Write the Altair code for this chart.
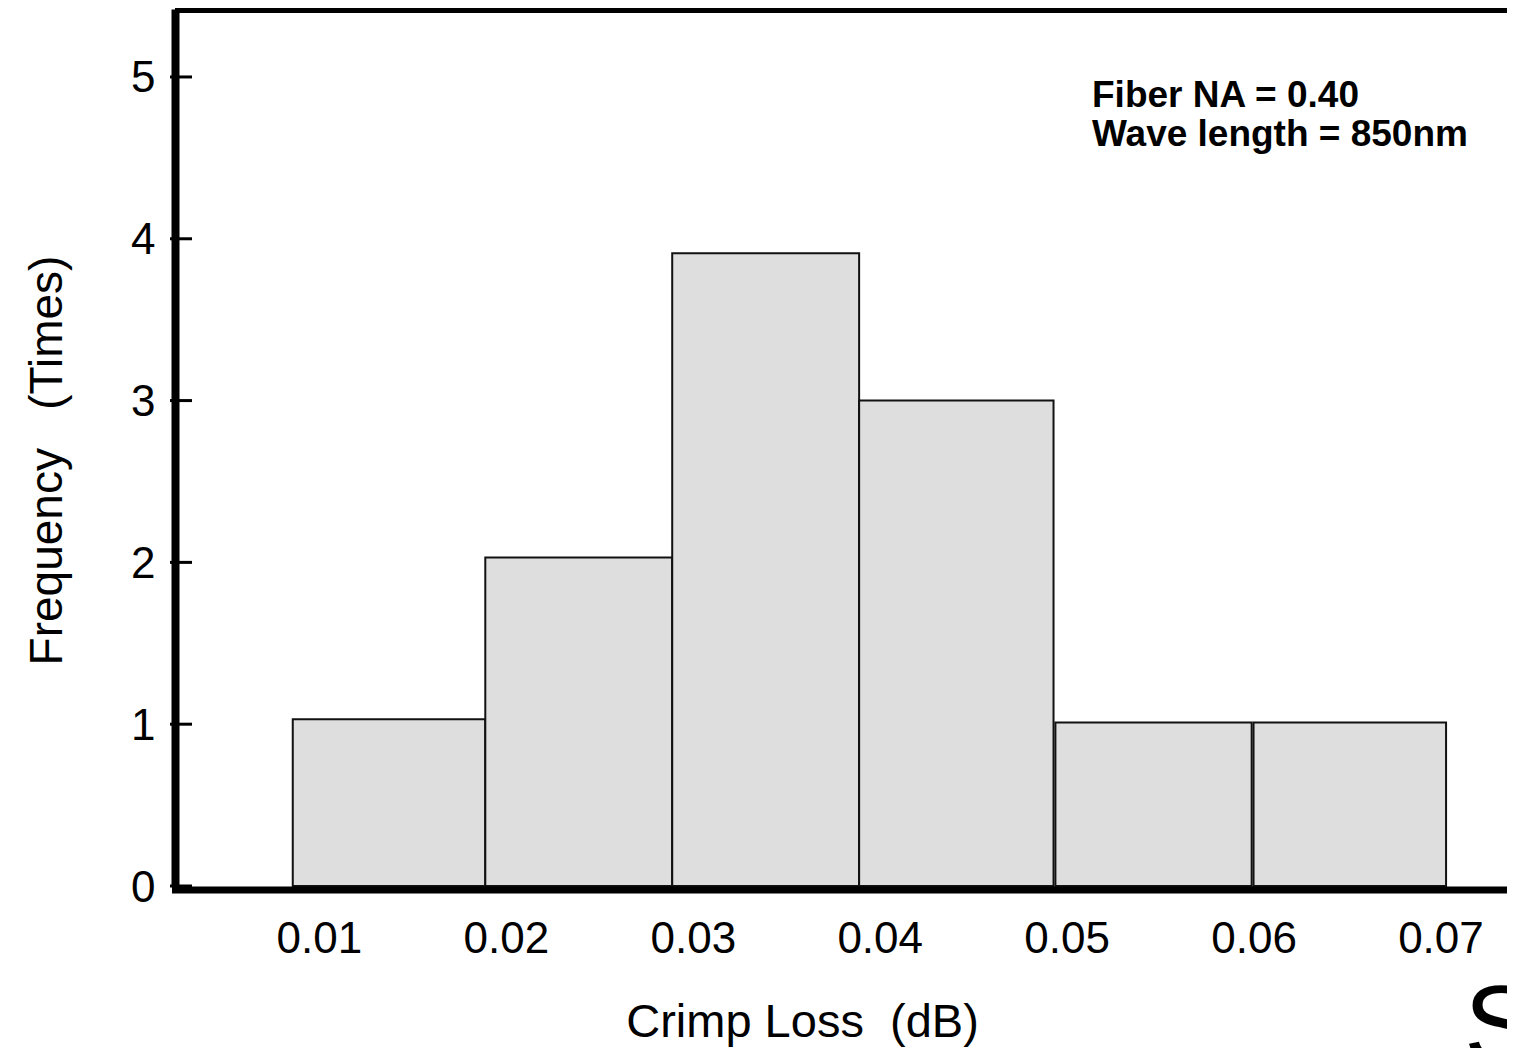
import altair as alt
import pandas as pd

# ---- data ----
bin_start = [0.0086, 0.0189, 0.0289, 0.0389, 0.0494, 0.0600]
bin_end = [0.0189, 0.0289, 0.0389, 0.0493, 0.0599, 0.0703]
frequency = [1.03, 2.03, 3.91, 3.0, 1.01, 1.01]
x_ticks = [0.01, 0.02, 0.03, 0.04, 0.05, 0.06, 0.07]
y_ticks = [0, 1, 2, 3, 4, 5]
note_lines = ["Fiber NA = 0.40", "Wave length = 850nm"]
NB = "\u00a0"
x_title = "Crimp Loss" + NB + NB + "(dB)"
y_title = "Frequency" + NB + NB + NB + "(Times)"

bars_df = pd.DataFrame({"start": bin_start, "end": bin_end, "freq": frequency})
ticks_df = pd.DataFrame({"freq": y_ticks})
one_df = pd.DataFrame({"a": [0]})

FONT = "Liberation Sans"
W, H = 1332, 877

xscale = alt.Scale(domain=[0.0023, 0.07356], nice=False, zero=False)
yscale = alt.Scale(domain=[0, 5.42], nice=False)

x_axis = alt.Axis(
    values=x_ticks, format=".2f", title=x_title,
    titleFont=FONT, titleFontSize=47, titleFontWeight="normal", titleColor="black",
    titleX=627, titleY=147, titleBaseline="alphabetic", titleAlign="center", titleAnchor="start",
    labelFont=FONT, labelFontSize=44, labelColor="black", labelPadding=28, labelFlush=False,
    ticks=False, tickSize=0, domainWidth=7, domainColor="black", domainCap="square",
    offset=3.5, grid=False, zindex=1,
)
y_axis = alt.Axis(
    values=y_ticks, title=y_title,
    titleFont=FONT, titleFontSize=46, titleFontWeight="normal", titleColor="black",
    titleX=-128, titleY=451, titleAngle=270, titleBaseline="middle", titleAlign="center",
    labelFont=FONT, labelFontSize=44, labelColor="black", labelPadding=20, labelFlush=False,
    labelOffset=2,
    ticks=False, tickSize=0, domainWidth=8, domainColor="black",
    grid=False, zindex=1,
)

bars = alt.Chart(bars_df).mark_rect(
    fill="#dedede", stroke="#111111", strokeWidth=2
).encode(
    x=alt.X("start:Q", scale=xscale, axis=x_axis),
    x2="end:Q",
    y=alt.Y("freq:Q", scale=yscale, axis=y_axis),
    y2=alt.datum(0),
)

ticks = alt.Chart(ticks_df).mark_rule(color="black", strokeWidth=3).encode(
    y=alt.Y("freq:Q", scale=yscale, axis=y_axis),
    x=alt.value(-5),
    x2=alt.value(17),
)

top_rule = alt.Chart(one_df).mark_rule(color="black", strokeWidth=8).encode(
    x=alt.value(0), x2=alt.value(W), y=alt.value(0)
)

note = alt.Chart(one_df).mark_text(
    text=note_lines, font=FONT, fontSize=37, fontWeight="bold", color="black",
    align="left", baseline="alphabetic", lineHeight=39,
).encode(x=alt.value(917), y=alt.value(98))

glyph = alt.Chart(one_df).mark_text(
    text="S", font=FONT, fontSize=110, color="black", align="left", baseline="alphabetic"
).encode(x=alt.value(1289), y=alt.value(1053))

chart = alt.layer(bars, ticks, top_rule, note, glyph).properties(
    width=W, height=H,
    autosize=alt.AutoSizeParams(type="none"),
    padding={"left": 167, "top": 1, "right": 0, "bottom": 162},
    background="white",
).configure_view(stroke="transparent")

chart.save("out.html", embed_options={"renderer": "svg", "actions": False})
